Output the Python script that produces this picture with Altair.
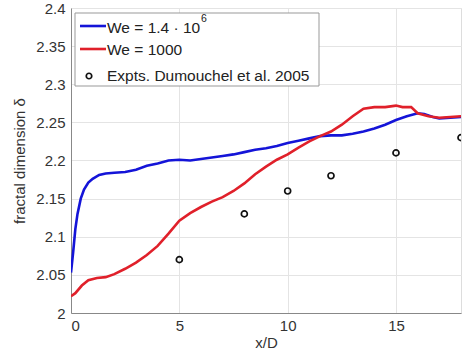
import altair as alt
import pandas as pd

# Blue: We = 1.4e6
blue_x = [0, 0.1, 0.2, 0.3, 0.45, 0.6, 0.8, 1.0, 1.3, 1.6, 2.0, 2.5, 3.0, 3.5, 4.0, 4.5, 5.0, 5.5, 6.0, 6.5,
          7.0, 7.5, 8.0, 8.5, 9.0, 9.5, 10.0, 10.5, 11.0, 11.5, 12.0, 12.5, 13.0, 13.5, 14.0, 14.5, 15.0,
          15.5, 16.0, 16.3, 16.7, 17.0, 17.5, 18.0]
blue_y = [2.053, 2.08, 2.11, 2.13, 2.15, 2.162, 2.171, 2.176, 2.181, 2.183, 2.184, 2.185, 2.188, 2.193,
          2.196, 2.200, 2.201, 2.200, 2.202, 2.204, 2.206, 2.208, 2.211, 2.214, 2.216, 2.219, 2.223, 2.226,
          2.229, 2.232, 2.233, 2.233, 2.235, 2.238, 2.242, 2.247, 2.253, 2.258, 2.262, 2.261, 2.257, 2.255,
          2.256, 2.257]

# Red: We = 1000
red_x = [0, 0.2, 0.5, 0.8, 1.2, 1.6, 2.0, 2.5, 3.0, 3.5, 4.0, 4.5, 5.0, 5.5, 6.0, 6.5, 7.0, 7.5, 8.0, 8.5,
         9.0, 9.5, 10.0, 10.5, 11.0, 11.5, 12.0, 12.5, 13.0, 13.5, 14.0, 14.5, 15.0, 15.3, 15.7, 16.0, 16.5,
         17.0, 17.5, 18.0]
red_y = [2.022, 2.026, 2.036, 2.043, 2.046, 2.047, 2.051, 2.058, 2.066, 2.076, 2.088, 2.104, 2.121, 2.131,
         2.139, 2.146, 2.152, 2.160, 2.170, 2.182, 2.192, 2.201, 2.208, 2.217, 2.225, 2.232, 2.238, 2.247,
         2.258, 2.268, 2.270, 2.270, 2.272, 2.270, 2.270, 2.262, 2.258, 2.256, 2.257, 2.258]

# Experiments
exp_x = [5, 8, 10, 12, 15, 18]
exp_y = [2.07, 2.13, 2.16, 2.18, 2.21, 2.23]

x_ticks = [0, 5, 10, 15]
y_ticks = [2.0, 2.05, 2.1, 2.15, 2.2, 2.25, 2.3, 2.35, 2.4]

legend_labels = ["We = 1.4 · 10", "We = 1000", "Expts. Dumouchel et al. 2005"]
legend_sup = "6"

FONT = "Liberation Sans"
BLUE = "#1414d8"
RED = "#e0202a"

blue_df = pd.DataFrame({"x": blue_x, "y": blue_y})
red_df = pd.DataFrame({"x": red_x, "y": red_y})
exp_df = pd.DataFrame({"x": exp_x, "y": exp_y})

xs = alt.Scale(domain=[0, 18], nice=False, zero=False)
ys = alt.Scale(domain=[2.0, 2.4], nice=False, zero=False)

common = dict(grid=True, tickSize=0, labelFont=FONT, titleFont=FONT, labelFontSize=15,
              titleFontSize=15, labelColor="#333", titleColor="#333", titleFontWeight="normal",
              gridColor="#e4e4e4", domainColor="#888", labelOverlap=False)
xaxis = alt.Axis(title="x/D", values=x_ticks, labelPadding=5, titlePadding=2, **common)
yaxis = alt.Axis(title="fractal dimension δ", values=y_ticks, format=".3~g", labelPadding=6,
                 titlePadding=8, **common)

X = alt.X("x:Q", scale=xs, axis=xaxis)
Y = alt.Y("y:Q", scale=ys, axis=yaxis)

blue = alt.Chart(blue_df).mark_line(color=BLUE, strokeWidth=2.6, clip=True).encode(x=X, y=Y)
red = alt.Chart(red_df).mark_line(color=RED, strokeWidth=2.6, clip=True).encode(x=X, y=Y)
pts = alt.Chart(exp_df).mark_point(shape="circle", filled=False, color="#111", size=36,
                                   strokeWidth=1.7, opacity=1, clip=True).encode(x=X, y=Y)

one = pd.DataFrame({"a": [0]})
leg_box = alt.Chart(one).mark_rect(fill="white", stroke="#999", strokeWidth=1).encode(
    x=alt.value(4), x2=alt.value(248), y=alt.value(5), y2=alt.value(78))
leg_b = alt.Chart(one).mark_rule(color=BLUE, strokeWidth=2.6).encode(
    x=alt.value(9), x2=alt.value(35), y=alt.value(18))
leg_r = alt.Chart(one).mark_rule(color=RED, strokeWidth=2.6).encode(
    x=alt.value(9), x2=alt.value(35), y=alt.value(41))
leg_p = alt.Chart(one).mark_point(shape="circle", filled=False, color="#111", size=30,
                                  strokeWidth=1.7, opacity=1).encode(x=alt.value(18), y=alt.value(68))


def label(txt, ypix, size=15.5, xpix=36):
    return alt.Chart(pd.DataFrame({"t": [txt]})).mark_text(
        align="left", baseline="middle", font=FONT, fontSize=size, color="#222").encode(
        x=alt.value(xpix), y=alt.value(ypix), text="t:N")


leg_t0 = label(legend_labels[0], 20)
leg_t1 = label(legend_labels[1], 42)
leg_t2 = label(legend_labels[2], 68)
sup = label(legend_sup, 11, size=10.5, xpix=130)

chart = alt.layer(blue, red, pts, leg_box, leg_b, leg_r, leg_p, leg_t0, leg_t1, leg_t2, sup).properties(
    width=390, height=305,
    padding={"left": 71, "top": 8, "right": 1, "bottom": 45},
    autosize=alt.AutoSizeParams(type="none"),
).configure_view(stroke="#888", strokeWidth=1).configure(background="white")

chart.save("out.html", embed_options={"renderer": "svg", "actions": False})
